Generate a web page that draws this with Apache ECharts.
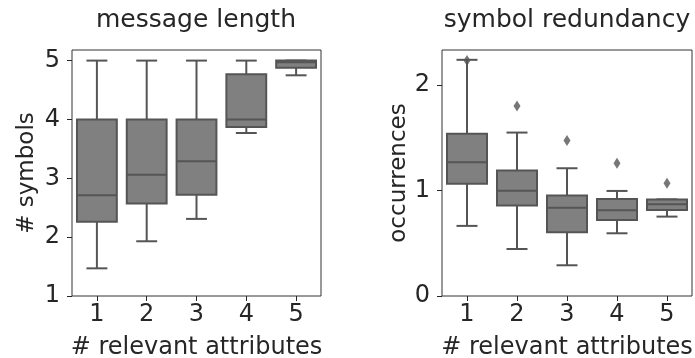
<!DOCTYPE html>
<html>
<head>
<meta charset="utf-8">
<script src="https://cdn.jsdelivr.net/npm/echarts@6/dist/echarts.min.js"></script>
<style>
  html, body { margin: 0; padding: 0; background: #fff; }
  #chart { width: 695px; height: 358px; }
</style>
</head>
<body>
<div id="chart"></div>
<script>
// Number of relevant attributes (shared x categories)
const categories = ['1', '2', '3', '4', '5'];

// Message length (# symbols): five-number summaries per category
const lengthMin    = [1.47, 1.93, 2.31, 3.77, 4.75];
const lengthQ1     = [2.26, 2.57, 2.72, 3.87, 4.88];
const lengthMedian = [2.71, 3.06, 3.29, 4.00, 4.97];
const lengthQ3     = [4.00, 4.00, 4.00, 4.77, 5.00];
const lengthMax    = [5.00, 5.00, 5.00, 5.00, 5.00];

// Symbol redundancy (occurrences): five-number summaries and outliers
const redundMin    = [0.664, 0.445, 0.291, 0.594, 0.752];
const redundQ1     = [1.062, 0.856, 0.603, 0.720, 0.815];
const redundMedian = [1.267, 0.998, 0.837, 0.812, 0.869];
const redundQ3     = [1.536, 1.188, 0.951, 0.919, 0.915];
const redundMax    = [2.237, 1.548, 1.210, 0.995, 0.915];
const redundOutliers = [2.23, 1.80, 1.472, 1.258, 1.068];

// Tick labels
const lengthTicks = [1, 2, 3, 4, 5];
const redundTicks = [0, 1, 2];

const FILL = '#808080';
const LINE = '#555555';
const TEXT = '#262626';
const FONT = 'DejaVu Sans';

function rows(mins, q1s, meds, q3s, maxs) {
  return categories.map((c, i) => [i, mins[i], q1s[i], meds[i], q3s[i], maxs[i]]);
}

// Box + whiskers with half-width caps, placed through the axis scales
function renderBox(params, api) {
  const x = api.value(0);
  const lo = api.coord([x, api.value(1)]);
  const q1 = api.coord([x, api.value(2)]);
  const md = api.coord([x, api.value(3)]);
  const q3 = api.coord([x, api.value(4)]);
  const hi = api.coord([x, api.value(5)]);
  const band = api.size([1, 0])[0];
  const hw = band * 0.4;
  const cw = band * 0.21;
  const cx = lo[0];
  const ls = { stroke: LINE, lineWidth: 2 };
  return {
    type: 'group',
    children: [
      { type: 'line', shape: { x1: cx, y1: q3[1], x2: cx, y2: hi[1] }, style: ls },
      { type: 'line', shape: { x1: cx, y1: q1[1], x2: cx, y2: lo[1] }, style: ls },
      { type: 'line', shape: { x1: cx - cw, y1: hi[1], x2: cx + cw, y2: hi[1] }, style: ls },
      { type: 'line', shape: { x1: cx - cw, y1: lo[1], x2: cx + cw, y2: lo[1] }, style: ls },
      { type: 'rect', shape: { x: cx - hw, y: q3[1], width: 2 * hw, height: q1[1] - q3[1] },
        style: { fill: FILL, stroke: LINE, lineWidth: 2 } },
      { type: 'line', shape: { x1: cx - hw, y1: md[1], x2: cx + hw, y2: md[1] }, style: ls }
    ]
  };
}

function xAxisFor(gridIndex) {
  return {
    type: 'category', gridIndex, data: categories, boundaryGap: true,
    name: '# relevant attributes', nameLocation: 'middle', nameGap: 40,
    nameTextStyle: { fontFamily: FONT, fontSize: 24, color: TEXT },
    axisLine: { show: false },
    axisTick: { show: true, alignWithLabel: true, length: 5, lineStyle: { color: TEXT } },
    axisLabel: { fontFamily: FONT, fontSize: 24, color: TEXT, margin: 7 },
    splitLine: { show: false }
  };
}

function yAxisFor(gridIndex, name, min, max, ticks, gap) {
  return {
    type: 'value', gridIndex, name, min, max,
    nameLocation: 'middle', nameGap: gap,
    nameTextStyle: { fontFamily: FONT, fontSize: 23, color: TEXT },
    axisLine: { show: false },
    axisTick: { show: true, length: 5, lineStyle: { color: TEXT }, customValues: ticks },
    axisLabel: { fontFamily: FONT, fontSize: 24, color: TEXT, margin: 12, customValues: ticks },
    splitLine: { show: false }
  };
}

const chart = echarts.init(document.getElementById('chart'), null, { renderer: 'canvas' });

chart.setOption({
  animation: false,
  backgroundColor: '#ffffff',
  graphic: [
    { type: 'text', x: 196, y: 20, style: { text: 'message length', font: '25px "DejaVu Sans"', fill: TEXT, align: 'center', verticalAlign: 'middle' } },
    { type: 'text', x: 567, y: 20, style: { text: 'symbol redundancy', font: '25px "DejaVu Sans"', fill: TEXT, align: 'center', verticalAlign: 'middle' } }
  ],
  grid: [
    { left: 72, top: 50, width: 249, height: 246, outerBoundsMode: 'none', containLabel: false,
      show: true, borderColor: '#333', borderWidth: 1, backgroundColor: 'transparent' },
    { left: 442, top: 50, width: 250, height: 246, outerBoundsMode: 'none', containLabel: false,
      show: true, borderColor: '#333', borderWidth: 1, backgroundColor: 'transparent' }
  ],
  xAxis: [xAxisFor(0), xAxisFor(1)],
  yAxis: [
    yAxisFor(0, '# symbols', 1, 5.18, lengthTicks, 33),
    yAxisFor(1, 'occurrences', 0, 2.33, redundTicks, 31)
  ],
  series: [
    {
      type: 'custom', xAxisIndex: 0, yAxisIndex: 0,
      renderItem: renderBox,
      encode: { x: 0, y: [1, 2, 3, 4, 5] },
      data: rows(lengthMin, lengthQ1, lengthMedian, lengthQ3, lengthMax)
    },
    {
      type: 'custom', xAxisIndex: 1, yAxisIndex: 1,
      renderItem: renderBox,
      encode: { x: 0, y: [1, 2, 3, 4, 5] },
      data: rows(redundMin, redundQ1, redundMedian, redundQ3, redundMax)
    },
    {
      type: 'scatter', xAxisIndex: 1, yAxisIndex: 1,
      symbol: 'diamond', symbolSize: [7, 11],
      itemStyle: { color: LINE },
      data: redundOutliers.map((v, i) => [i, v])
    }
  ]
});
</script>
</body>
</html>
